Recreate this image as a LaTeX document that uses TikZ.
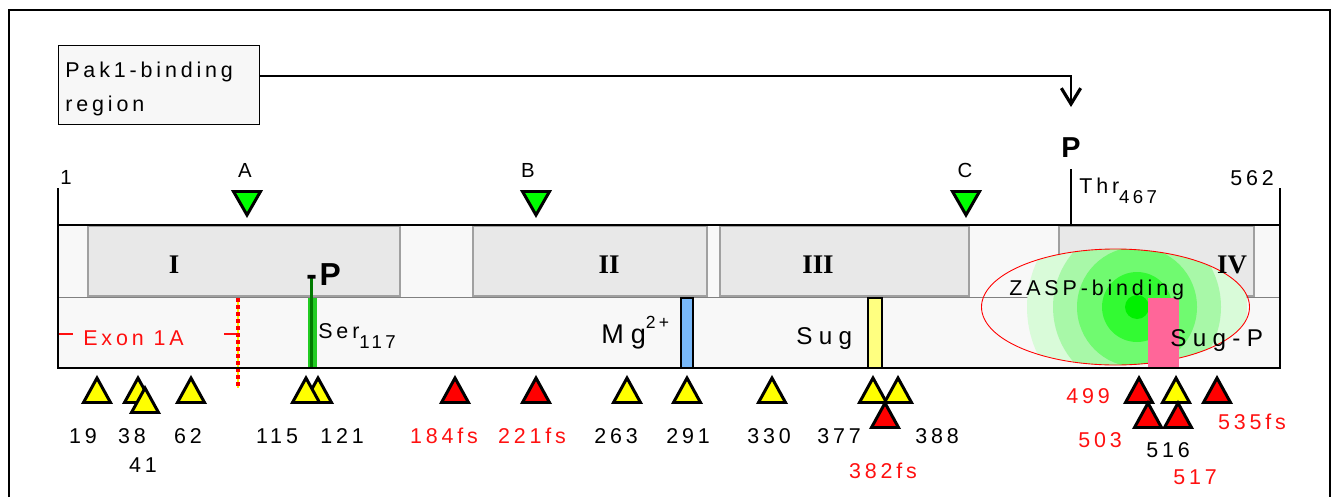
\documentclass[tikz,border=0pt]{standalone}
\usepackage{fontspec}
\setmainfont{Liberation Sans}
\newfontfamily\trackA[LetterSpace=18]{Liberation Sans}
\newfontfamily\trackB[LetterSpace=26]{Liberation Sans}
\newfontfamily\romfont{Liberation Serif}
\usetikzlibrary{arrows.meta}

\definecolor{barbg}{HTML}{F8F8F8}
\definecolor{dombg}{HTML}{E8E8E8}
\definecolor{domline}{HTML}{A0A0A0}
\definecolor{boxbg}{HTML}{F7F7F7}
\definecolor{exred}{HTML}{FF1010}
\definecolor{triyel}{HTML}{FFFF00}
\definecolor{trired}{HTML}{FF0000}
\definecolor{trigrn}{HTML}{00FF00}
\definecolor{mgblue}{HTML}{78B8F8}
\definecolor{sugyel}{HTML}{FFFF80}
\definecolor{sugpink}{HTML}{FF6699}
\definecolor{serband}{HTML}{22CC22}
\definecolor{serline}{HTML}{007A00}
\definecolor{ringA}{HTML}{D9FBD9}
\definecolor{ringB}{HTML}{A8F8A8}
\definecolor{ringC}{HTML}{70FA70}
\definecolor{ringD}{HTML}{33FA33}
\definecolor{ringE}{HTML}{00F000}

\tikzset{
  txt/.style={inner sep=0pt, font=\trackA\fontsize{12.2pt}{14pt}\selectfont},
  bigtxt/.style={inner sep=0pt, font=\trackB\fontsize{13.8pt}{16pt}\selectfont},
  smalltxt/.style={inner sep=0pt, font=\trackA\fontsize{11.6pt}{13pt}\selectfont},
  num/.style={txt, anchor=base},
  rnum/.style={num, text=exred},
  dombox/.style={draw=domline, line width=0.6pt, fill=dombg},
  domlabel/.style={inner sep=0pt, anchor=base, font=\romfont\bfseries\fontsize{15.3pt}{18pt}\selectfont},
  tri/.style={draw=black, line width=1.7pt, line join=miter},
  heavy/.style={line width=1.5pt}
}

% upward mutation triangle: #1 = x, #2 = apex y, #3 = fill
\newcommand{\mutri}[3]{%
  \filldraw[tri, fill=#3] (#1,#2+3) -- (#1+13.5,#2+27.5) -- (#1-13.5,#2+27.5) -- cycle;}
% downward marker triangle: #1 = x
\newcommand{\marktri}[1]{%
  \filldraw[tri, fill=trigrn] (#1-13.5,191.5) -- (#1+13.5,191.5) -- (#1,215) -- cycle;}

\begin{document}
\begin{tikzpicture}[x=0.02cm, y=-0.02cm]
\useasboundingbox (0,0) rectangle (1335,497);

% outer frame (open at the bottom)
\draw[line width=1.3pt] (9,497) -- (9,10) -- (1330,10) -- (1330,497);

% Pak1-binding box and its arrow to Thr467
\node[draw=black, line width=0.5pt, fill=boxbg, minimum width=4.02cm, minimum height=1.58cm, inner sep=0pt]
  (pak) at (158.5,84.5) {};
\node[txt, anchor=base west] (paktxt1) at (65,77) {Pak1-binding};
\node[txt, anchor=base west] (paktxt2) at (65,111) {region};
\coordinate (ptip) at (1071,107);
\draw[line width=1.2pt, -{Straight Barb[length=9pt, width=11pt, line width=1.8pt]}]
  (pak.east |- 0,76) -| (ptip);
\node[inner sep=0pt, anchor=base, font=\bfseries\fontsize{16.4pt}{18pt}\selectfont] (ptop) at (1071,157) {P};

% sequence ends and Thr467 tick
\draw[heavy] (58,188) -- (58,225);
\draw[heavy] (1280,188) -- (1280,225);
\draw[heavy] (1071,169) -- (1071,225);
\node[smalltxt, anchor=base] (n1) at (66,184) {1};
\node[txt, anchor=base] (n562) at (1252,185) {562};
\node[txt, anchor=base west] (thr) at (1079,193)
  {Thr\raisebox{-6.2pt}{\trackA\fontsize{10.6pt}{12pt}\selectfont 467}};

% markers A, B, C
\marktri{247} \marktri{536} \marktri{966}
\node[smalltxt, anchor=base] (lA) at (245,177) {A};
\node[smalltxt, anchor=base] (lB) at (528,177) {B};
\node[smalltxt, anchor=base] (lC) at (965,177) {C};

% protein bar
\fill[barbg] (58,225) rectangle (1280,368);
\draw[dombox] (88,226) rectangle (400,296);
\draw[dombox] (473,226) rectangle (707,296);
\draw[dombox] (720,226) rectangle (969,296);
\draw[dombox] (1059,226) rectangle (1254,296);
\draw[draw=gray, line width=0.6pt] (58,297.5) -- (1280,297.5);

% ZASP-binding ellipse with stepped radial shading
\begin{scope}
  \clip (1115.5,307) ellipse [x radius=134, y radius=58];
  \fill[ringA] (1137,307) circle [radius=110];
  \fill[ringB] (1137,307) circle [radius=84];
  \fill[ringC] (1137,307) circle [radius=60];
  \fill[ringD] (1137,307) circle [radius=35];
  \fill[ringE] (1137,307) circle [radius=12];
\end{scope}
\draw[red, line width=0.5pt] (1115.5,307) ellipse [x radius=134, y radius=58];

% domain labels
\node[domlabel] (dI) at (174,273) {I};
\node[domlabel] (dII) at (609,273) {II};
\node[domlabel] (dIII) at (818,273) {III};
\node[domlabel] (dIV) at (1232,273) {IV};

% functional sites
\fill[sugpink] (1148,298) rectangle (1179,368);
\filldraw[draw=black, line width=0.6pt, fill=mgblue] (681,298) rectangle (693,368);
\filldraw[draw=black, line width=0.6pt, fill=sugyel] (868,298) rectangle (882,368);

% Ser117 phosphorylation
\fill[serband] (308,298) rectangle (317,368);
\draw[serline, line width=1.5pt] (311.5,276) -- (311.5,368);
\node[inner sep=0pt, anchor=base west, font=\bfseries\fontsize{18.1pt}{20pt}\selectfont] (pser) at (306,285) {-\kern1.5pt P};
\node[txt, anchor=base west] (ser) at (318,338)
  {Ser\raisebox{-5.7pt}{\trackA\fontsize{10.6pt}{12pt}\selectfont 117}};

% exon 1A
\draw[exred, line width=1.7pt] (58,334) -- (73,334);
\draw[exred, line width=1.7pt] (224,334) -- (238,334);
\node[txt, anchor=base west, text=exred] (exon) at (83,345) {Exon 1A};
\draw[yellow, line width=0.6pt] (238,298) -- (238,388);
\draw[red, line width=1.9pt, dash pattern=on 2.3pt off 1.7pt] (238,298) -- (238,388);

% site labels
\node[inner sep=0pt, anchor=base west, font=\trackB\fontsize{15.4pt}{17pt}\selectfont] (mg) at (601,343)
  {Mg\raisebox{8.5pt}{\trackA\fontsize{10pt}{11pt}\selectfont 2+}};
\node[bigtxt, anchor=base west] (sug) at (796,344) {Sug};
\node[bigtxt, anchor=base west] (sugp) at (1170,346) {Sug-P};
\node[txt, anchor=base west] (zasp) at (1009,295) {ZASP-binding};

% bar outline
\draw[line width=1.4pt] (58,225) rectangle (1280,368);

% mutation triangles
\mutri{97}{375}{triyel}
\mutri{138}{375}{triyel}
\mutri{145}{385}{triyel}
\mutri{191}{375}{triyel}
\mutri{318}{375}{triyel}
\mutri{306}{375}{triyel}
\mutri{455}{375}{trired}
\mutri{536}{375}{trired}
\mutri{627}{375}{triyel}
\mutri{687}{375}{triyel}
\mutri{772}{375}{triyel}
\mutri{873}{375}{triyel}
\mutri{898}{375}{triyel}
\mutri{885}{400}{trired}
\mutri{1139}{375}{trired}
\mutri{1176}{375}{triyel}
\mutri{1217}{375}{trired}
\mutri{1148}{400}{trired}
\mutri{1178}{400}{trired}

% mutation labels
\node[num] (m19) at (83,443) {19};
\node[num] (m38) at (132,443) {38};
\node[num] (m41) at (143,472) {41};
\node[num] (m62) at (188,443) {62};
\node[num] (m115) at (277,443) {115};
\node[num] (m121) at (342,443) {121};
\node[rnum] (m184) at (444,443) {184fs};
\node[rnum] (m221) at (532,443) {221fs};
\node[num] (m263) at (616,443) {263};
\node[num] (m291) at (688,443) {291};
\node[num] (m330) at (769,443) {330};
\node[num] (m377) at (839,443) {377};
\node[num] (m388) at (937,443) {388};
\node[rnum] (m382) at (883,478) {382fs};
\node[rnum] (m499) at (1088,403) {499};
\node[rnum] (m535) at (1252,429) {535fs};
\node[rnum] (m503) at (1100,447) {503};
\node[num] (m516) at (1168,457) {516};
\node[rnum] (m517) at (1195,484) {517};
\end{tikzpicture}
\end{document}
